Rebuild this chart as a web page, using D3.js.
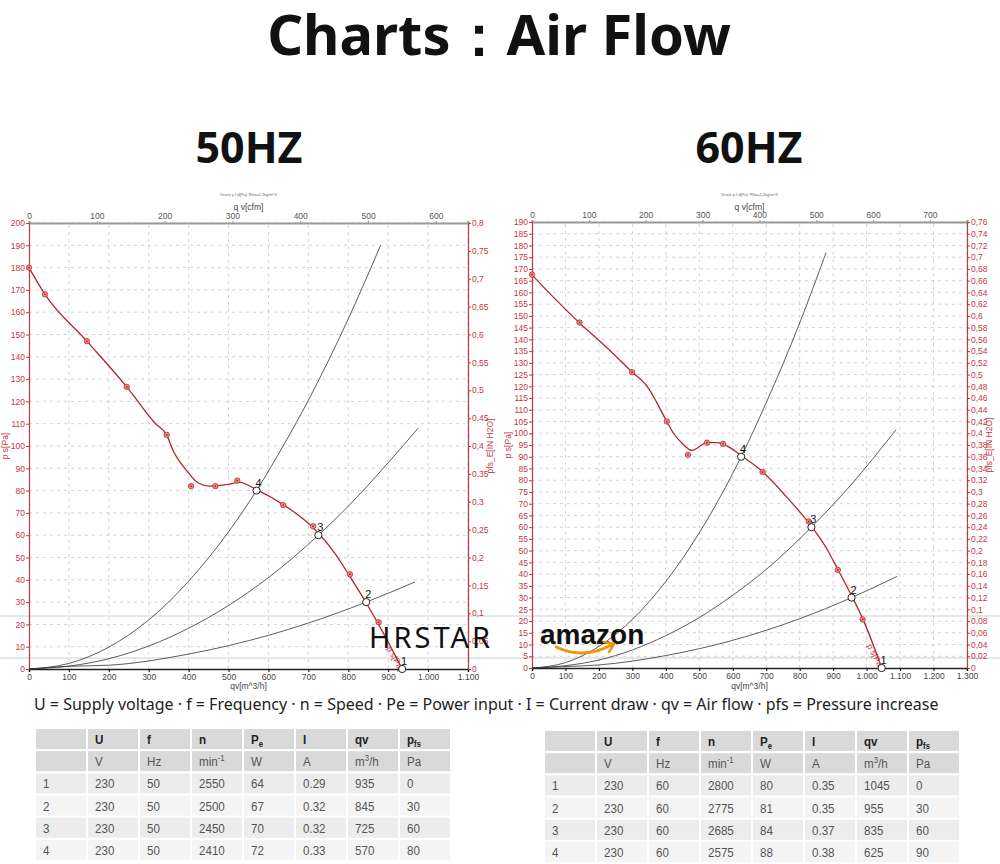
<!DOCTYPE html>
<html>
<head>
<meta charset="utf-8">
<script src="https://cdn.jsdelivr.net/npm/d3@7"></script>
<style>
  body { margin: 0; background: #fff; }
</style>
</head>
<body>
<div id="chart"></div>
<script>
// ---- data ----
// fan curve p s[Pa] over qv[m^3/h]
const fanCurve50 = [[0,180],[40,168],[145,147],[245,126.5],[317,110],[345,105],[361,98],[395,89],[424,83.4],
  [453,82],[495,82.7],[528,83.7],[570,80.4],[637,73.7],[704,64.7],[729,60.2],[770,51],[804,41.5],[845,29.6],[879,19],[935,0]];
const fanMarks50 = [[0,180],[40,168],[145,147],[245,126.5],[345,105],[406,82],[467,82],[522,84.5],[637,73.5],[712,64],[804,42.5],[876,21]];
const sysCurves50 = [
  [[0,0],[100,1.2],[200,1.7],[400,6.7],[600,15.1],[700,20.6],[845,30],[967,39]],
  [[0,0],[100,1.3],[200,4.6],[300,10.3],[400,18.3],[500,28.5],[600,41],[725,60],[800,73],[900,92.5],[975,108]],
  [[0,0],[100,2.5],[200,9.8],[300,22],[400,39.4],[500,61.5],[570,80],[640,101],[700,120.5],[800,157],[881,190]]
];

const fanCurve60 = [[0,167.5],[50,160],[142,147],[220,137],[300,126],[344,120],[403,105],[423,100],[450,95.5],[478,92.7],
  [523,96],[553,96],[590,94],[630,90],[690,83.5],[760,73],[837,60],[880,51],[914,42],[958,30],[990,20.5],[1045,0]];
const fanMarks60 = [[0,167.6],[142,147.2],[299,126],[403,105],[466,90.8],[523,96],[571,95.5],[689,83.5],[827,62.4],[914,41.8],[988,20.7]];
const sysCurves60 = [
  [[0,0],[100,0.6],[200,1.3],[400,5.3],[600,11.8],[800,21],[955,30],[1091,39]],
  [[0,0],[100,1],[200,3.4],[300,7.7],[400,13.8],[500,21.5],[600,31],[700,42],[835,60],[950,77.5],[1088,101.5]],
  [[0,0],[100,2.3],[200,9.2],[300,20.7],[400,36.9],[500,57.6],[625,90],[700,113],[800,147],[879,177]]
];

// axis ticks
const qvTicks50 = [0,100,200,300,400,500,600,700,800,900,1000,1100];
const cfmTicks50 = [0,100,200,300,400,500,600];
const paTicks50 = [0,10,20,30,40,50,60,70,80,90,100,110,120,130,140,150,160,170,180,190,200];
const inTicks50 = [0,0.05,0.1,0.15,0.2,0.25,0.3,0.35,0.4,0.45,0.5,0.55,0.6,0.65,0.7,0.75,0.8];

const qvTicks60 = [0,100,200,300,400,500,600,700,800,900,1000,1100,1200,1300];
const cfmTicks60 = [0,100,200,300,400,500,600,700];
const paTicks60 = [0,5,10,15,20,25,30,35,40,45,50,55,60,65,70,75,80,85,90,95,100,105,110,115,120,125,130,135,140,145,150,155,160,165,170,175,180,185,190];
const inTicks60 = [0,0.02,0.04,0.06,0.08,0.1,0.12,0.14,0.16,0.18,0.2,0.22,0.24,0.26,0.28,0.3,0.32,0.34,0.36,0.38,
  0.4,0.42,0.44,0.46,0.48,0.5,0.52,0.54,0.56,0.58,0.6,0.62,0.64,0.66,0.68,0.7,0.72,0.74,0.76];

// operating point tables
const tableHead = ["", "U", "f", "n", "Pe", "I", "qv", "pfs"];
const tableUnits = ["", "V", "Hz", "min-1", "W", "A", "m3/h", "Pa"];
const rows50 = [
  ["1","230","50","2550","64","0.29","935","0"],
  ["2","230","50","2500","67","0.32","845","30"],
  ["3","230","50","2450","70","0.32","725","60"],
  ["4","230","50","2410","72","0.33","570","80"]
];
const rows60 = [
  ["1","230","60","2800","80","0.35","1045","0"],
  ["2","230","60","2775","81","0.35","955","30"],
  ["3","230","60","2685","84","0.37","835","60"],
  ["4","230","60","2575","88","0.38","625","90"]
];

const CFM = 1.699; // m^3/h per cfm
const red = "#c0393f";

const de = d3.formatLocale({decimal: ",", thousands: ".", grouping: [3], currency: ["", ""]});
const fmtQ = de.format(",d");
const fmtIn = de.format(".2~f");

const svg = d3.select("#chart").append("svg")
  .attr("width", 1000).attr("height", 864)
  .style("font-family", "'Liberation Sans', Arial, sans-serif");

// main title
svg.append("text").attr("x", 499).attr("y", 55).attr("text-anchor", "middle")
   .style("font-family", "'Noto Sans', sans-serif").style("font-weight", 700).style("font-size", "56px")
   .attr("fill", "#111").text("Charts：Air Flow");

// watermark band lines
[616, 658].forEach(v => svg.append("line").attr("x1", 0).attr("x2", 1000).attr("y1", v).attr("y2", v)
   .attr("stroke", "#cfcfcf").attr("stroke-width", 1));

drawChart({
  head: "50HZ", cx: 249,
  left: 29, right: 468, top: 223, bottom: 669,
  qMax: 1100, pMax: 200, inMax: 0.8,
  qvTicks: qvTicks50, cfmTicks: cfmTicks50, paTicks: paTicks50, inTicks: inTicks50,
  fan: fanCurve50, marks: fanMarks50, sys: sysCurves50, rows: rows50,
  psAt: [912, 12], psRot: 60, tableX: 36, tableY: 729
});
drawChart({
  head: "60HZ", cx: 749,
  left: 532, right: 967, top: 222, bottom: 668,
  qMax: 1300, pMax: 190, inMax: 0.76,
  qvTicks: qvTicks60, cfmTicks: cfmTicks60, paTicks: paTicks60, inTicks: inTicks60,
  fan: fanCurve60, marks: fanMarks60, sys: sysCurves60, rows: rows60,
  psAt: [1022, 12], psRot: 63, tableX: 545, tableY: 731
});

function drawChart(c) {
  const x = d3.scaleLinear().domain([0, c.qMax]).range([c.left, c.right]);
  const y = d3.scaleLinear().domain([0, c.pMax]).range([c.bottom, c.top]);
  const yIn = d3.scaleLinear().domain([0, c.inMax]).range([c.bottom, c.top]);
  const xCfm = d3.scaleLinear().domain([0, c.qMax / CFM]).range([c.left, c.right]);
  const g = svg.append("g");

  g.append("text").attr("x", c.cx).attr("y", 163).attr("text-anchor", "middle")
   .style("font-family", "'Noto Sans', sans-serif").style("font-weight", 700).style("font-size", "43px")
   .attr("fill", "#111").text(c.head);

  // grid
  g.append("g").selectAll("line").data(c.qvTicks.slice(1)).join("line")
   .attr("x1", d => x(d)).attr("x2", d => x(d)).attr("y1", c.bottom).attr("y2", c.top)
   .attr("stroke", "#c8c8c8").attr("stroke-width", 0.8).attr("stroke-dasharray", "3,4");
  g.append("g").selectAll("line").data(c.paTicks.slice(1)).join("line")
   .attr("x1", c.left).attr("x2", c.right).attr("y1", d => y(d)).attr("y2", d => y(d))
   .attr("stroke", "#c8c8c8").attr("stroke-width", 0.8).attr("stroke-dasharray", "3,4");

  // axes
  const bottomAxis = g.append("g").attr("transform", "translate(0," + c.bottom + ")")
   .call(d3.axisBottom(x).tickValues(c.qvTicks).tickFormat(fmtQ).tickSize(3).tickPadding(2));
  bottomAxis.select(".domain").attr("stroke", "#222").attr("stroke-width", 1.5);
  bottomAxis.selectAll("text").attr("fill", "#444").style("font-size", "8.5px");

  const topAxis = g.append("g").attr("transform", "translate(0," + c.top + ")")
   .call(d3.axisTop(xCfm).tickValues(c.cfmTicks).tickSize(2).tickPadding(2));
  topAxis.select(".domain").attr("stroke", "#999").attr("stroke-width", 2);
  topAxis.selectAll(".tick line").attr("stroke", "#999");
  topAxis.selectAll("text").attr("fill", "#555").style("font-size", "8.5px");

  const leftAxis = g.append("g").attr("transform", "translate(" + c.left + ",0)")
   .call(d3.axisLeft(y).tickValues(c.paTicks).tickSize(3).tickPadding(1));
  leftAxis.select(".domain").attr("stroke", red).attr("stroke-width", 1.2);
  leftAxis.selectAll(".tick line").attr("stroke", red);
  leftAxis.selectAll("text").attr("fill", red).style("font-size", "8.5px");

  const rightAxis = g.append("g").attr("transform", "translate(" + c.right + ",0)")
   .call(d3.axisRight(yIn).tickValues(c.inTicks).tickFormat(fmtIn).tickSize(3).tickPadding(1));
  rightAxis.select(".domain").attr("stroke", red).attr("stroke-width", 1.2);
  rightAxis.selectAll(".tick line").attr("stroke", red);
  rightAxis.selectAll("text").attr("fill", red).style("font-size", "8.5px");

  // axis titles
  const mid = (c.left + c.right) / 2;
  g.append("text").attr("x", mid).attr("y", 196).attr("text-anchor", "middle")
   .style("font-size", "4px").attr("fill", "#666").text("Druck p f d[Pa]: Rho=1,2kg/m^3");
  g.append("text").attr("x", mid).attr("y", 210).attr("text-anchor", "middle")
   .style("font-size", "8.5px").attr("fill", "#444").text("q v[cfm]");
  g.append("text").attr("x", mid).attr("y", 689).attr("text-anchor", "middle")
   .style("font-size", "8.5px").attr("fill", "#444").text("qv[m^3/h]");
  g.append("text").attr("transform", "translate(" + (c.left - 21) + "," + ((c.top + c.bottom) / 2) + ") rotate(-90)")
   .attr("text-anchor", "middle").style("font-size", "8.5px").attr("fill", red).text("p s[Pa]");
  g.append("text").attr("transform", "translate(" + (c.right + 25) + "," + ((c.top + c.bottom) / 2) + ") rotate(-90)")
   .attr("text-anchor", "middle").style("font-size", "8.5px").attr("fill", red).text("pfs_E[IN H2O]");

  // system curves
  const line = d3.line().x(d => x(d[0])).y(d => y(d[1])).curve(d3.curveMonotoneX);
  g.append("g").selectAll("path").data(c.sys).join("path")
   .attr("d", line).attr("fill", "none").attr("stroke", "#333").attr("stroke-width", 0.8);

  // fan curve
  g.append("path").datum(c.fan).attr("d", line)
   .attr("fill", "none").attr("stroke", "#b3262d").attr("stroke-width", 1.3);
  const mk = g.append("g").selectAll("g").data(c.marks).join("g")
   .attr("transform", d => "translate(" + x(d[0]) + "," + y(d[1]) + ")");
  mk.append("circle").attr("r", 2.7).attr("fill", "#ec8a8a").attr("stroke", "#c0393f").attr("stroke-width", 0.9);
  mk.append("circle").attr("r", 0.9).attr("fill", "#a52a2a");

  g.append("text")
   .attr("transform", "translate(" + x(c.psAt[0]) + "," + y(c.psAt[1]) + ") rotate(" + c.psRot + ")")
   .attr("dx", 2).attr("dy", 9).style("font-size", "8.5px").attr("fill", red).text("p s[Pa]");

  // operating points from the table
  const ops = c.rows.map(r => ({id: r[0], q: +r[6], p: +r[7]}));
  const op = g.append("g").selectAll("g").data(ops).join("g")
   .attr("transform", d => "translate(" + x(d.q) + "," + y(d.p) + ")");
  op.append("circle").attr("r", 3.6).attr("fill", "#fff").attr("stroke", "#222").attr("stroke-width", 1);
  op.append("text").attr("x", 2).attr("y", -4).attr("text-anchor", "middle")
   .style("font-size", "11px").attr("fill", "#111").text(d => d.id);

  // table
  const colW = 50, colStep = 52, rowH = 20, rowStep = 22.2;
  const allRows = [tableHead, tableUnits].concat(c.rows);
  const tg = g.append("g");
  allRows.forEach((r, i) => {
    const fill = i < 2 ? "#d9d9d9" : (i % 2 === 0 ? "#ececec" : "#f4f4f4");
    r.forEach((cell, j) => {
      const cx0 = c.tableX + j * colStep, cy0 = c.tableY + i * rowStep;
      tg.append("rect").attr("x", cx0).attr("y", cy0).attr("width", colW).attr("height", rowH).attr("fill", fill);
      const t = tg.append("text")
        .attr("transform", "translate(" + (cx0 + 7) + "," + (cy0 + 15) + ") scale(0.86,1)")
        .style("font-size", "13.5px").attr("fill", i === 0 ? "#222" : "#555")
        .style("font-weight", i === 0 ? 700 : 400);
      if (cell === "Pe" || cell === "pfs") {
        t.text(cell[0]);
        t.append("tspan").attr("dy", 3).style("font-size", "9px").text(cell.slice(1));
      } else if (cell === "min-1") {
        t.text("min");
        t.append("tspan").attr("dy", -5).style("font-size", "9px").text("-1");
      } else if (cell === "m3/h") {
        t.text("m");
        t.append("tspan").attr("dy", -5).style("font-size", "9px").text("3");
        t.append("tspan").attr("dy", 5).text("/h");
      } else {
        t.text(cell);
      }
    });
  });
}

// legend line
svg.append("text").attr("x", 34).attr("y", 710)
   .style("font-family", "'Noto Sans', sans-serif").style("font-size", "16px").attr("fill", "#222")
   .text("U = Supply voltage · f = Frequency · n = Speed · Pe = Power input · I = Current draw · qv = Air flow · pfs = Pressure increase");

// watermarks
svg.append("text").attr("x", 369).attr("y", 648)
   .style("font-family", "'Noto Sans', sans-serif").style("font-size", "29px").style("letter-spacing", "3px")
   .attr("fill", "#111").text("HRSTAR");
svg.append("text").attr("x", 540).attr("y", 644)
   .style("font-family", "'Liberation Sans', Arial, sans-serif").style("font-weight", 700).style("font-size", "28px")
   .attr("fill", "#111").text("amazon");
svg.append("path").attr("d", "M556,647 Q584,660 611,645").attr("fill", "none")
   .attr("stroke", "#f0940a").attr("stroke-width", 3).attr("stroke-linecap", "round");
svg.append("path").attr("d", "M604,642 L614,644 L609,652").attr("fill", "none")
   .attr("stroke", "#f0940a").attr("stroke-width", 2.5).attr("stroke-linecap", "round").attr("stroke-linejoin", "round");
</script>
</body>
</html>
